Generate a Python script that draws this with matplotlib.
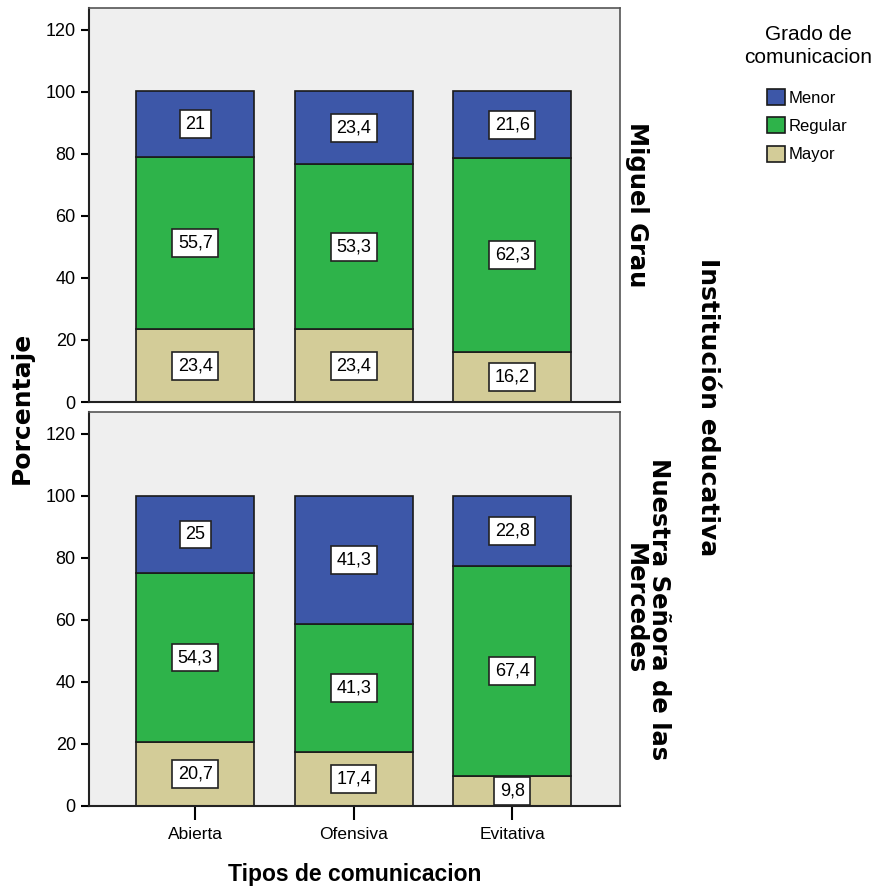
import matplotlib
matplotlib.use("Agg")
import matplotlib.pyplot as plt
import numpy as np

# ── Data ─────────────────────────────────────────────────────────────────────
TIPOS = ["Abierta", "Ofensiva", "Evitativa"]
GRADOS = ["Menor", "Regular", "Mayor"]
PANELS = ["Miguel Grau", "Nuestra Señora de las\nMercedes"]

grau_mayor = [23.4, 23.4, 16.2]
grau_regular = [55.7, 53.3, 62.3]
grau_menor = [21, 23.4, 21.6]

merc_mayor = [20.7, 17.4, 9.8]
merc_regular = [54.3, 41.3, 67.4]
merc_menor = [25, 41.3, 22.8]

COLORS = {"Menor": "#3d57a8", "Regular": "#2eb34a", "Mayor": "#d3cc98"}
NARROW = ["Liberation Sans", "DejaVu Sans"]
WIDE = ["DejaVu Sans"]


def fmt(v):
    return f"{v:g}".replace(".", ",")


# ── Plot ─────────────────────────────────────────────────────────────────────
plt.rcParams["font.family"] = NARROW
fig = plt.figure(figsize=(8.75, 8.92), dpi=100)
W, H = 875, 892
ax_top = fig.add_axes([89 / W, 1 - 402 / H, (620 - 89) / W, (402 - 8) / H])
ax_bot = fig.add_axes([89 / W, 1 - 806 / H, (620 - 89) / W, (806 - 412) / H])

x = np.arange(len(TIPOS))
panel_data = [
    (ax_top, grau_mayor, grau_regular, grau_menor),
    (ax_bot, merc_mayor, merc_regular, merc_menor),
]

for ax, mayor, regular, menor in panel_data:
    ax.set_facecolor("#efefef")
    bottom = np.zeros(len(TIPOS))
    for name, vals in [("Mayor", mayor), ("Regular", regular), ("Menor", menor)]:
        vals = np.array(vals, dtype=float)
        ax.bar(x, vals, width=0.745, bottom=bottom, color=COLORS[name],
               edgecolor="#1a1a1a", linewidth=1.2, label=name, zorder=2)
        for xi, b, v in zip(x, bottom, vals):
            ax.text(xi, b + v / 2, fmt(v), ha="center", va="center",
                    fontsize=13, zorder=4, clip_on=False,
                    bbox=dict(boxstyle="square,pad=0.3", fc="white",
                              ec="#222222", lw=1.2))
        bottom += vals
    ax.set_xlim(-0.67, 2.68)
    ax.set_ylim(0, 127)
    ax.set_yticks([0, 20, 40, 60, 80, 100, 120])
    ax.tick_params(axis="y", labelsize=13, length=6, width=1.5, direction="out")
    for s in ["left", "bottom"]:
        ax.spines[s].set_linewidth(1.5)
        ax.spines[s].set_color("#222222")
    for s in ["top", "right"]:
        ax.spines[s].set_linewidth(1.2)
        ax.spines[s].set_color("#555555")

ax_top.set_xticks([])
ax_bot.set_xticks(x)
ax_bot.set_xticklabels(TIPOS, fontsize=12.5)
ax_bot.tick_params(axis="x", length=10, width=1.5, pad=5)

# Panel strip labels (right side)
ax_top.text(1.032, 0.5, PANELS[0], transform=ax_top.transAxes, rotation=-90,
            ha="center", va="center", fontsize=17.5, fontweight="bold",
            family=WIDE)
ax_bot.text(1.05, 0.5, PANELS[1], transform=ax_bot.transAxes, rotation=-90,
            ha="center", va="center", fontsize=17.5, fontweight="bold",
            multialignment="center", linespacing=1.0, family=WIDE)
fig.text(708 / W, 1 - 407 / H, "Institución educativa", rotation=-90,
         ha="center", va="center", fontsize=18, fontweight="bold",
         family=WIDE)

fig.text(22 / W, 1 - 408 / H, "Porcentaje", rotation=90,
         ha="center", va="center", fontsize=18, fontweight="bold",
         family=WIDE)
fig.text(355 / W, 1 - 874 / H, "Tipos de comunicacion",
         ha="center", va="center", fontsize=16.5, fontweight="bold")

# Legend
fig.text(808 / W, 1 - 46 / H, "Grado de\ncomunicacion", ha="center",
         va="center", fontsize=15, linespacing=1.25)
handles, labels = ax_top.get_legend_handles_labels()
order = [labels.index(g) for g in GRADOS]
fig.legend([handles[i] for i in order], [labels[i] for i in order],
           loc="upper left", bbox_to_anchor=(767 / W, 1 - 89 / H),
           frameon=False, fontsize=12, handlelength=1.1, handleheight=1.1,
           handletextpad=0.2, labelspacing=0.7, borderaxespad=0,
           borderpad=0)

plt.savefig("out.png", dpi=100)
